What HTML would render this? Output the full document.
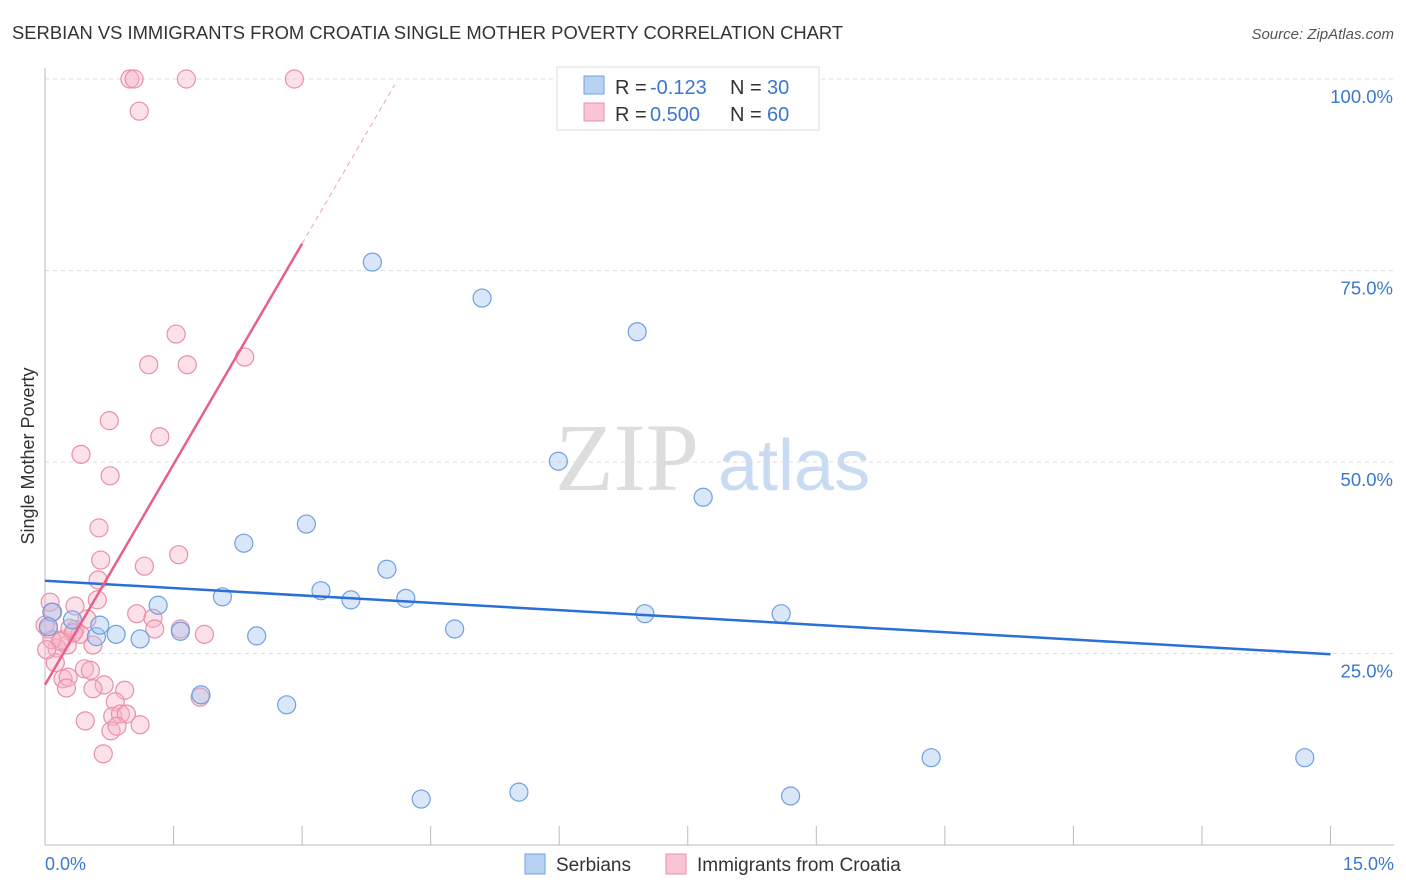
<!DOCTYPE html>
<html><head><meta charset="utf-8"><style>
body{margin:0;background:#fff;font-family:"Liberation Sans",sans-serif;}
svg{display:block}
</style></head><body>
<svg width="1406" height="892">
<text x="12" y="39" font-size="18.4" fill="#333">SERBIAN VS IMMIGRANTS FROM CROATIA SINGLE MOTHER POVERTY CORRELATION CHART</text>
<text x="1394" y="39" font-size="15" fill="#555" text-anchor="end" font-style="italic">Source: ZipAtlas.com</text>
<text x="555" y="490" font-size="96" fill="#ddd" font-family="Liberation Serif,serif">ZIP</text>
<text x="718" y="490" font-size="72" fill="#c8dbf2">atlas</text>
<g id="grid"></g>
<line x1="45" y1="68" x2="45" y2="845" stroke="#bbb"/>
<line x1="45" y1="845" x2="1394" y2="845" stroke="#bbb"/>
<text transform="translate(34,456) rotate(-90)" font-size="18" fill="#333" text-anchor="middle">Single Mother Poverty</text>
<text x="45" y="870" font-size="18" fill="#3a78d0">0.0%</text>
<text x="1394" y="870" font-size="18" fill="#3a78d0" text-anchor="end">15.0%</text>
<g id="marks"></g>
<g>
<rect x="557" y="67" width="262" height="63" fill="#fff" stroke="#ddd"/>
<rect x="584" y="76" width="20" height="18" fill="#b8d2f4" stroke="#6fa0e0"/>
<rect x="584" y="103" width="20" height="18" fill="#f9c4d3" stroke="#e890a8"/>
<text x="615" y="94" font-size="20" fill="#333">R =</text>
<text x="650" y="94" font-size="20" fill="#3a78d0">-0.123</text>
<text x="730" y="94" font-size="20" fill="#333">N =</text>
<text x="767" y="94" font-size="20" fill="#3a78d0">30</text>
<text x="615" y="121" font-size="20" fill="#333">R =</text>
<text x="650" y="121" font-size="20" fill="#3a78d0">0.500</text>
<text x="730" y="121" font-size="20" fill="#333">N =</text>
<text x="767" y="121" font-size="20" fill="#3a78d0">60</text>
</g>
<g>
<rect x="525" y="854" width="20" height="20" fill="#b8d2f4" stroke="#6fa0e0"/>
<text x="556" y="871" font-size="19" fill="#333">Serbians</text>
<rect x="666" y="854" width="20" height="20" fill="#f9c4d3" stroke="#e890a8"/>
<text x="697" y="871" font-size="19" fill="#333">Immigrants from Croatia</text>
</g>
</svg>
<script>
const yTicks=[25,50,75,100];
const yTickLabels=["25.0%","50.0%","75.0%","100.0%"];
const xTicks=[0,1.5,3,4.5,6,7.5,9,10.5,12,13.5,15];
const serbX=[3.82,5.10,6.91,5.99,7.68,3.05,2.32,3.99,3.22,3.57,4.21,1.32,2.07,7.00,8.59,4.78,1.58,0.83,0.60,1.11,2.47,1.82,2.82,10.34,14.70,4.39,5.53,8.70,0.08,0.32,0.64,0.04];
const serbY=[76.1,71.4,67.0,50.1,45.4,41.9,39.4,36.0,33.2,32.0,32.2,31.3,32.4,30.2,30.2,28.2,27.9,27.5,27.2,26.9,27.3,19.6,18.3,11.4,11.4,6.0,6.9,6.4,30.4,29.4,28.7,28.5];
const croX=[0.99,1.04,1.65,2.91,1.10,1.53,1.21,1.66,2.33,0.75,1.34,0.42,0.76,0.63,0.65,1.56,1.16,0.62,0.61,1.07,0.35,1.26,0.49,1.58,1.86,1.28,0.56,0.35,0.06,0.09,0.20,0.26,0.14,0.12,0.46,0.53,0.21,0.27,0.69,0.56,0.93,0.82,0.79,0.88,0.95,0.77,0.84,0.47,1.11,0.68,0.04,0.08,0.29,0.41,1.81,0.33,0.18,0,0.02,0.25];
const croY=[100,100,100,100,95.8,66.7,62.7,62.7,63.7,55.4,53.3,51.0,48.2,41.4,37.2,37.9,36.4,34.6,32.0,30.2,31.2,29.6,29.5,28.2,27.5,28.2,26.1,28.1,31.7,30.4,26.8,26.1,25.7,23.8,23.0,22.8,21.7,21.9,20.9,20.4,20.2,18.7,16.8,17.1,17.1,14.9,15.5,16.2,15.7,11.9,28.2,26.8,28.3,27.5,19.3,27.7,26.6,28.7,25.5,20.5];
const serbTrend=[34.5,24.9];
const croTrend=[20.9,19.2];
const X=v=>45+v*85.7, Y=v=>845-v*7.66;
const NS="http://www.w3.org/2000/svg";
function mk(t,a,p){const e=document.createElementNS(NS,t);for(const k in a)e.setAttribute(k,a[k]);p.appendChild(e);return e;}
const grid=document.getElementById('grid'), marks=document.getElementById('marks');
yTicks.forEach((t,i)=>{
 const l=mk('line',{x1:45,x2:1394,y1:Y(t),y2:Y(t),stroke:'#ddd','stroke-dasharray':'4,4'},grid);
 
 
 const tx=mk('text',{x:1393,y:Y(t)+24,'font-size':18.5,fill:'#3a78d0','text-anchor':'end'},grid);
 tx.textContent=yTickLabels[i];
 
 
});
xTicks.forEach(t=>{
 const l=mk('line',{x1:X(t),x2:X(t),y1:826,y2:845,stroke:'#bbb'},grid);
 
 
});
croX.forEach((x,i)=>{
 const c=mk('circle',{cx:X(x),cy:Y(croY[i]),r:9,fill:'rgba(248,180,200,0.4)',stroke:'#e890a8','stroke-width':1.2},marks);
 
 
});
serbX.forEach((x,i)=>{
 const c=mk('circle',{cx:X(x),cy:Y(serbY[i]),r:9,fill:'rgba(160,196,240,0.4)',stroke:'#6fa0e0','stroke-width':1.2},marks);
 
 
});
const st=mk('line',{x1:X(0),y1:Y(serbTrend[0]),x2:X(15),y2:Y(serbTrend[1]),stroke:'#2a6fd6','stroke-width':2.5},marks);


const ct=mk('line',{x1:X(0),y1:Y(croTrend[0]),x2:X(3),y2:Y(croTrend[0]+3*croTrend[1]),stroke:'#e8608a','stroke-width':2.5},marks);


const cd=mk('line',{x1:X(3),y1:Y(croTrend[0]+3*croTrend[1]),x2:X(4.08),y2:Y(croTrend[0]+4.08*croTrend[1]),stroke:'#f0a0b8','stroke-width':1,'stroke-dasharray':'5,4'},marks);


</script>
</body></html>
